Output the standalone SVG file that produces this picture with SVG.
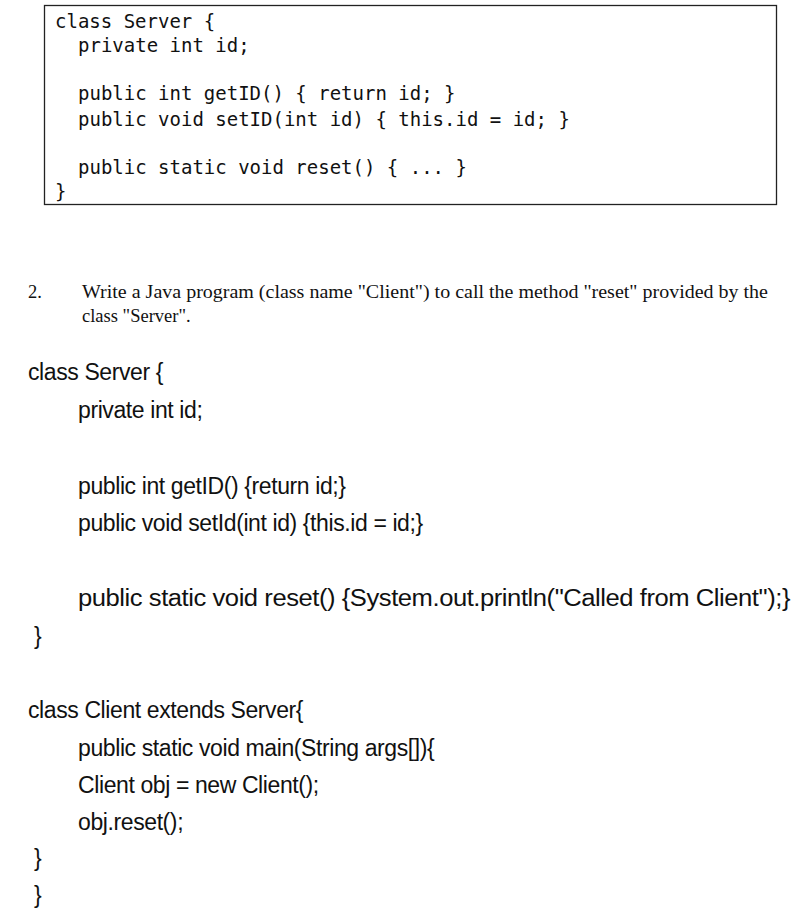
<svg xmlns="http://www.w3.org/2000/svg" width="794" height="914" viewBox="0 0 794 914">
<style>
.m{font-family:"DejaVu Sans Mono","Liberation Mono",monospace;font-size:19px;fill:#111}
.t{font-family:"Liberation Serif",serif;font-size:18.5px;fill:#111}
.s{font-family:"Liberation Sans",Arial,sans-serif;font-size:23px;fill:#111;letter-spacing:-0.4px}
</style>
<rect width="794" height="914" fill="#fff"/>
<rect x="44.5" y="5.5" width="732" height="199" fill="none" stroke="#222" stroke-width="1.3"/>
<text class="m" x="55" y="28">class Server {</text>
<text class="m" x="78" y="52">private int id;</text>
<text class="m" x="78" y="100">public int getID() { return id; }</text>
<text class="m" x="78" y="126">public void setID(int id) { this.id = id; }</text>
<text class="m" x="78" y="174">public static void reset() { ... }</text>
<text class="m" x="55" y="198">}</text>
<text class="t" x="28" y="298">2.</text>
<text class="t" x="82" y="298" textLength="686" lengthAdjust="spacingAndGlyphs">Write a Java program (class name "Client") to call the method "reset" provided by the</text>
<text class="t" x="82" y="322">class "Server".</text>
<text class="s" x="28" y="380">class Server {</text>
<text class="s" x="78" y="418">private int id;</text>
<text class="s" x="78" y="494">public int getID() {return id;}</text>
<text class="s" x="78" y="531">public void setId(int id) {this.id = id;}</text>
<text class="s" x="78" y="606" textLength="712" lengthAdjust="spacingAndGlyphs">public static void reset() {System.out.println("Called from Client");}</text>
<text class="s" x="34" y="644">}</text>
<text class="s" x="28" y="718">class Client extends Server{</text>
<text class="s" x="78" y="756">public static void main(String args[]){</text>
<text class="s" x="78" y="793">Client obj = new Client();</text>
<text class="s" x="78" y="830">obj.reset();</text>
<text class="s" x="34" y="866">}</text>
<text class="s" x="34" y="903">}</text>
</svg>
